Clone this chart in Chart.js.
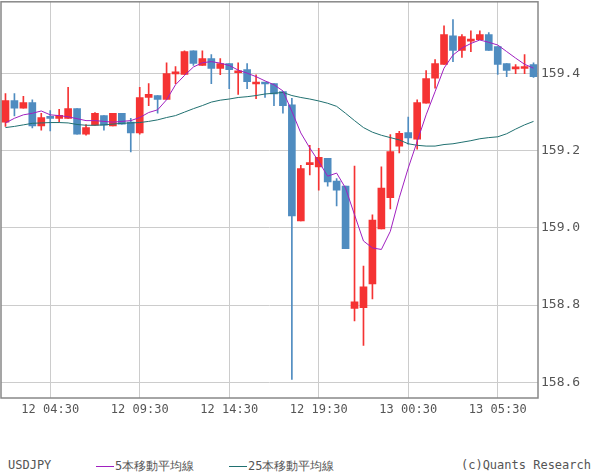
<!DOCTYPE html>
<html><head><meta charset="utf-8">
<script src="https://cdn.jsdelivr.net/npm/chart.js@4/dist/chart.umd.min.js"></script>
<style>
body{margin:0;background:#fff;width:600px;height:475px;overflow:hidden;font-family:"DejaVu Sans Mono",monospace;}
#wrap{position:absolute;left:0;top:-9px;width:600px;height:429px;}
.lg{position:absolute;top:458px;font-size:12px;color:#555;white-space:nowrap;}
.ln{display:inline-block;width:18px;height:0;border-top:1px solid;vertical-align:middle;margin-right:1px;}
</style></head><body>
<div id="wrap"><canvas id="c" width="600" height="429"></canvas></div>
<div class="lg" style="left:8px">USDJPY</div>
<div class="lg" style="left:96px"><span class="ln" style="border-color:#a020c0"></span>5本移動平均線</div>
<div class="lg" style="left:229px"><span class="ln" style="border-color:#207070"></span>25本移動平均線</div>
<div class="lg" style="right:9px">(c)Quants Research</div>
<script>
const openP=[159.274,159.330,159.310,159.325,159.264,159.289,159.284,159.284,159.309,159.243,159.266,159.291,159.264,159.297,159.274,159.246,159.338,159.343,159.333,159.399,159.398,159.459,159.421,159.439,159.413,159.426,159.402,159.410,159.373,159.375,159.374,159.353,159.319,159.018,159.164,159.158,159.180,159.121,159.108,158.791,158.793,158.855,158.997,159.078,159.212,159.247,159.230,159.323,159.388,159.424,159.498,159.460,159.484,159.488,159.501,159.470,159.426,159.412,159.413,159.423];
const closeP=[159.330,159.310,159.325,159.264,159.286,159.284,159.292,159.309,159.243,159.260,159.297,159.266,159.297,159.269,159.246,159.338,159.346,159.333,159.400,159.401,159.457,159.426,159.439,159.413,159.426,159.410,159.403,159.379,159.374,159.373,159.347,159.317,159.031,159.154,159.167,159.183,159.119,159.098,158.946,158.808,158.847,159.020,159.103,159.198,159.245,159.233,159.325,159.387,159.426,159.501,159.460,159.496,159.486,159.501,159.460,159.424,159.408,159.413,159.418,159.392];
const highP=[159.348,159.348,159.341,159.332,159.297,159.304,159.307,159.364,159.309,159.268,159.299,159.291,159.297,159.297,159.284,159.364,159.374,159.343,159.428,159.418,159.459,159.459,159.459,159.449,159.439,159.426,159.428,159.426,159.397,159.377,159.374,159.353,159.336,159.162,159.214,159.206,159.180,159.128,159.108,159.160,158.901,159.034,159.158,159.242,159.250,159.287,159.332,159.408,159.436,159.524,159.540,159.501,159.511,159.511,159.506,159.470,159.426,159.423,159.449,159.428];
const lowP=[159.263,159.290,159.310,159.259,159.253,159.251,159.274,159.284,159.243,159.240,159.266,159.253,159.264,159.269,159.197,159.243,159.317,159.297,159.333,159.374,159.398,159.421,159.421,159.374,159.397,159.361,159.346,159.361,159.335,159.338,159.317,159.297,158.607,159.018,159.137,159.098,159.108,159.057,158.946,158.759,158.695,158.816,158.997,159.049,159.194,159.217,159.204,159.323,159.362,159.424,159.431,159.442,159.457,159.488,159.460,159.398,159.392,159.400,159.400,159.390];
const ma5=[159.272,159.284,159.293,159.297,159.303,159.293,159.291,159.288,159.283,159.278,159.278,159.276,159.274,159.276,159.278,159.286,159.299,159.306,159.332,159.371,159.395,159.417,159.428,159.431,159.427,159.421,159.409,159.401,159.392,159.381,159.371,159.355,159.302,159.246,159.207,159.172,159.134,159.142,159.103,159.034,158.966,158.948,158.944,158.991,159.078,159.155,159.224,159.293,159.353,159.414,159.448,159.466,159.478,159.487,159.481,159.474,159.457,159.440,159.424,159.414];
const ma25=[159.260,159.263,159.267,159.271,159.272,159.273,159.273,159.272,159.268,159.266,159.266,159.267,159.269,159.271,159.272,159.273,159.276,159.280,159.286,159.291,159.300,159.309,159.317,159.326,159.331,159.334,159.338,159.340,159.343,159.347,159.349,159.351,159.343,159.338,159.334,159.329,159.323,159.315,159.297,159.278,159.260,159.248,159.240,159.234,159.228,159.218,159.214,159.212,159.212,159.216,159.218,159.222,159.226,159.231,159.234,159.236,159.244,159.256,159.267,159.276];
const yTicks=[158.6,158.8,159.0,159.2,159.4];
const labels=[];
for(let i=0;i<60;i++){const m=(2*60)+i*30;const d=12+Math.floor(m/1440);const mm=m%1440;labels.push(d+' '+String(Math.floor(mm/60)).padStart(2,'0')+':'+String(mm%60).padStart(2,'0'));}
const tickLabels=['12 04:30','12 09:30','12 14:30','12 19:30','13 00:30','13 05:30'];
const RED='#f53333',BLUE='#4f8cc0';
const cols=openP.map((o,i)=>closeP[i]>=o?RED:BLUE);
const border={id:'bd',afterDraw(c){const a=c.chartArea,x=c.ctx;x.save();x.strokeStyle='#888';x.lineWidth=1.5;x.strokeRect(a.left,a.top,a.right-a.left,a.bottom-a.top);x.restore();}};
new Chart(document.getElementById('c'),{
 data:{labels,datasets:[
  {type:'line',data:ma5,borderColor:'#a020c0',borderWidth:1,pointRadius:0,tension:0,order:0},
  {type:'line',data:ma25,borderColor:'#207070',borderWidth:1,pointRadius:0,tension:0,order:0},
  {type:'bar',data:lowP.map((l,i)=>[l,highP[i]]),backgroundColor:cols,barThickness:1,grouped:false,order:2},
  {type:'bar',data:openP.map((o,i)=>[o,closeP[i]]),backgroundColor:cols,barThickness:7,minBarLength:2,grouped:false,order:1}
 ]},
 options:{responsive:false,animation:false,events:[],
  layout:{padding:{left:1,top:1}},
  plugins:{legend:{display:false},tooltip:{enabled:false}},
  scales:{
   x:{type:'category',offset:true,grid:{offset:false,color:'#ccc',drawTicks:false},border:{display:false},
      ticks:{autoSkip:false,maxRotation:0,color:'#555',font:{family:'DejaVu Sans Mono',size:12},padding:5,
        callback:(v,i)=>tickLabels.includes(labels[i])?labels[i]:null},
      afterFit:s=>{s.height=22;}},
   y:{position:'right',min:158.559,max:159.586,grid:{color:'#ccc',drawTicks:false},border:{display:false},
      afterBuildTicks:s=>{s.ticks=yTicks.map(v=>({value:v}));},
      ticks:{color:'#555',font:{family:'DejaVu Sans Mono',size:13},padding:3,callback:v=>v.toFixed(1)},
      afterFit:s=>{s.width=62;}}
  }},
 plugins:[border]
});
</script></body></html>
